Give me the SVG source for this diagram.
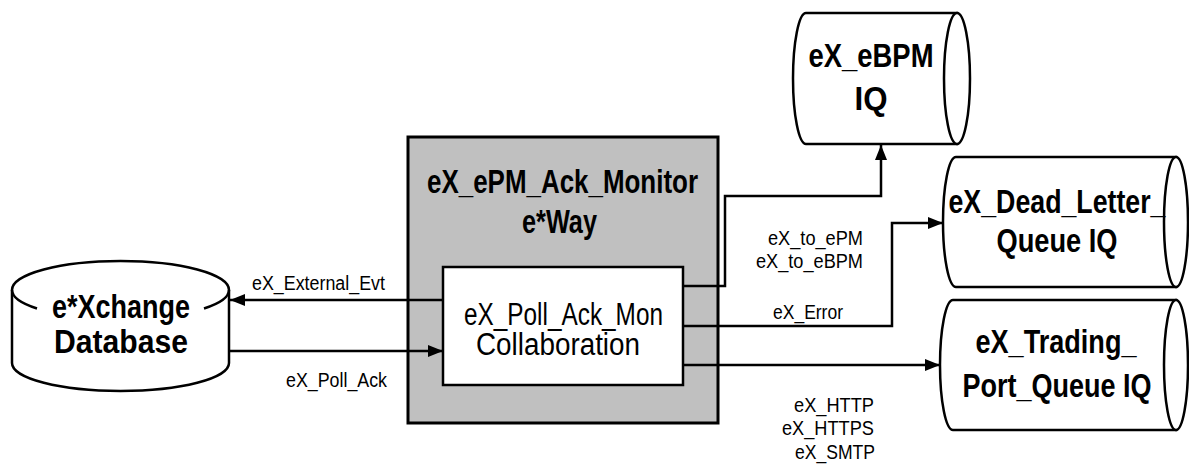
<svg xmlns="http://www.w3.org/2000/svg" width="1189" height="466" viewBox="0 0 1189 466">
<style>
.s{fill:none;stroke:#000;stroke-width:2.5}
.w{fill:#fff;stroke:#000;stroke-width:2.5}
.b{font-family:"Liberation Sans",Arial,sans-serif;font-weight:bold;font-size:33px;fill:#000}
.r{font-family:"Liberation Sans",Arial,sans-serif;font-size:31px;fill:#000}
.l{font-family:"Liberation Sans",Arial,sans-serif;font-size:20px;fill:#000}
</style>
<defs>
<marker id="ah" markerUnits="userSpaceOnUse" markerWidth="16" markerHeight="12" refX="15" refY="6" orient="auto">
<path d="M0,0 L15,6 L0,12 Z" fill="#000"/>
</marker>
</defs>
<rect width="1189" height="466" fill="#fff"/>

<g id="db">
<path class="w" d="M12,290 L12,363 A108.5,28 0 0 0 229,363 L229,290 A108.5,29 0 0 0 12,290 Z"/>
<path class="s" d="M12,290 A108.5,29 0 0 0 37,308.5 M204,308.5 A108.5,29 0 0 0 229,290"/>
<text class="b" x="121" y="318" text-anchor="middle" textLength="138" lengthAdjust="spacingAndGlyphs">e*Xchange</text>
<text class="b" x="121" y="353" text-anchor="middle" textLength="134" lengthAdjust="spacingAndGlyphs">Database</text>
</g>

<g id="eway">
<rect x="408" y="137" width="310" height="286" fill="#c0c0c0" stroke="#000" stroke-width="3"/>
<text class="b" x="562.5" y="193" text-anchor="middle" textLength="271" lengthAdjust="spacingAndGlyphs">eX_ePM_Ack_Monitor</text>
<text class="b" x="559.5" y="233" text-anchor="middle" textLength="75" lengthAdjust="spacingAndGlyphs">e*Way</text>
</g>

<g id="collab">
<rect class="w" x="443" y="267" width="240" height="118"/>
<text class="r" x="563.5" y="325" text-anchor="middle" textLength="199" lengthAdjust="spacingAndGlyphs">eX_Poll_Ack_Mon</text>
<text class="r" x="558" y="355" text-anchor="middle" textLength="164" lengthAdjust="spacingAndGlyphs">Collaboration</text>
</g>

<g id="ebpm">
<path class="w" d="M957,13 L806,13 A13,65.5 0 0 0 806,144 L957,144 Z"/>
<ellipse class="w" cx="957" cy="78.5" rx="13" ry="65.5"/>
<text class="b" x="871" y="67" text-anchor="middle" textLength="125" lengthAdjust="spacingAndGlyphs">eX_eBPM</text>
<text class="b" x="871" y="110" text-anchor="middle" textLength="33" lengthAdjust="spacingAndGlyphs">IQ</text>
</g>

<g id="deadletter">
<path class="w" d="M1176,157 L956,157 A13,65 0 0 0 956,287 L1176,287 Z"/>
<ellipse class="w" cx="1176" cy="222" rx="12" ry="65"/>
<text class="b" x="1057" y="213" text-anchor="middle" textLength="217" lengthAdjust="spacingAndGlyphs">eX_Dead_Letter_</text>
<text class="b" x="1057" y="252" text-anchor="middle" textLength="121" lengthAdjust="spacingAndGlyphs">Queue IQ</text>
</g>

<g id="trading">
<path class="w" d="M1176,300 L953,300 A13,65 0 0 0 953,430 L1176,430 Z"/>
<ellipse class="w" cx="1176" cy="365" rx="12" ry="65"/>
<text class="b" x="1056" y="353" text-anchor="middle" textLength="161" lengthAdjust="spacingAndGlyphs">eX_Trading_</text>
<text class="b" x="1057" y="397" text-anchor="middle" textLength="189" lengthAdjust="spacingAndGlyphs">Port_Queue IQ</text>
</g>

<g id="connectors">
<path class="s" d="M443,300 L230,300" marker-end="url(#ah)"/>
<path class="s" d="M229,351 L443,351" marker-end="url(#ah)"/>
<path class="s" d="M683,286 L725,286 L725,196 L881,196 L881,145" marker-end="url(#ah)"/>
<path class="s" d="M683,326 L892,326 L892,223 L943,223" marker-end="url(#ah)"/>
<path class="s" d="M683,365 L940,365" marker-end="url(#ah)"/>
<text class="l" x="318.5" y="290" text-anchor="middle" textLength="133" lengthAdjust="spacingAndGlyphs">eX_External_Evt</text>
<text class="l" x="336.5" y="387" text-anchor="middle" textLength="101" lengthAdjust="spacingAndGlyphs">eX_Poll_Ack</text>
<text class="l" x="815.5" y="245" text-anchor="middle" textLength="95" lengthAdjust="spacingAndGlyphs">eX_to_ePM</text>
<text class="l" x="809.5" y="268" text-anchor="middle" textLength="107" lengthAdjust="spacingAndGlyphs">eX_to_eBPM</text>
<text class="l" x="808" y="319" text-anchor="middle" textLength="70" lengthAdjust="spacingAndGlyphs">eX_Error</text>
<text class="l" x="834" y="412" text-anchor="middle" textLength="80" lengthAdjust="spacingAndGlyphs">eX_HTTP</text>
<text class="l" x="828" y="435" text-anchor="middle" textLength="92" lengthAdjust="spacingAndGlyphs">eX_HTTPS</text>
<text class="l" x="835" y="459" text-anchor="middle" textLength="80" lengthAdjust="spacingAndGlyphs">eX_SMTP</text>
</g>
</svg>
